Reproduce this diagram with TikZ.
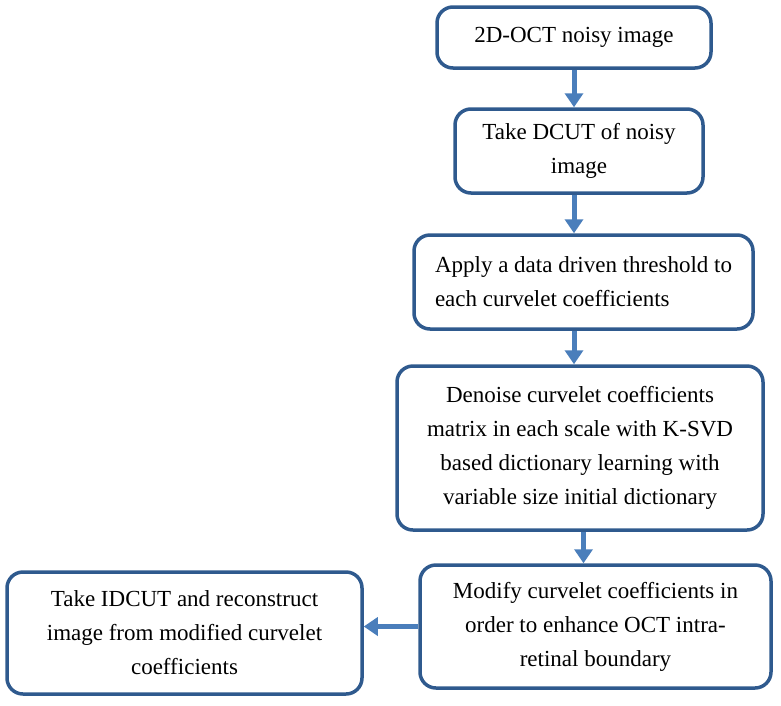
\documentclass[tikz,border=0pt]{standalone}
\usepackage{fontspec}
\setmainfont{Liberation Serif}
\usetikzlibrary{arrows.meta}
\definecolor{boxblue}{HTML}{2F5A8E}
\definecolor{arrowblue}{HTML}{4A7EBB}
\tikzset{
  stepbox/.style={draw=boxblue, line width=3.5pt, rounded corners=16pt, align=center,
    font=\fontsize{23}{34}\selectfont, inner sep=0pt},
  flow/.style={arrowblue, line width=5pt, -{Triangle[length=14pt,width=18pt]}}
}
\begin{document}
\begin{tikzpicture}[x=1pt,y=-1pt]
  \useasboundingbox (0,0) rectangle (781,705);

  % boxes
  \node[stepbox, minimum width=274pt, minimum height=61pt] (noisy) at (574,37.5) {2D-OCT noisy image};
  \node[stepbox, minimum width=248pt, minimum height=84pt] (dcut) at (579,151) {Take DCUT of noisy\\image};
  \node[stepbox, align=left, minimum width=339pt, minimum height=94pt] (thresh) at (583.5,282) {Apply a data driven threshold to\\each curvelet coefficients};
  \node[stepbox, minimum width=366pt, minimum height=164pt] (denoise) at (580,448) {Denoise curvelet coefficients\\matrix in each scale with K-SVD\\based dictionary learning with\\variable size initial dictionary};
  \node[stepbox, minimum width=351pt, minimum height=123pt] (modify) at (595.5,626.5) {Modify curvelet coefficients in\\order to enhance OCT intra-\\retinal boundary};
  \node[stepbox, minimum width=355pt, minimum height=122pt] (rebuild) at (184.5,633) {Take IDCUT and reconstruct\\image from modified curvelet\\coefficients};

  % arrows
  \draw[flow] (noisy.south) -- (noisy.south |- dcut.north);
  \draw[flow] (dcut.south -| noisy) -- (thresh.north -| noisy);
  \draw[flow] (thresh.south -| noisy) -- (denoise.north -| noisy);
  \draw[flow] (denoise.south -| thresh) -- (modify.north -| thresh);
  \draw[flow] (modify.west) -- (modify.west -| rebuild.east);
\end{tikzpicture}
\end{document}
